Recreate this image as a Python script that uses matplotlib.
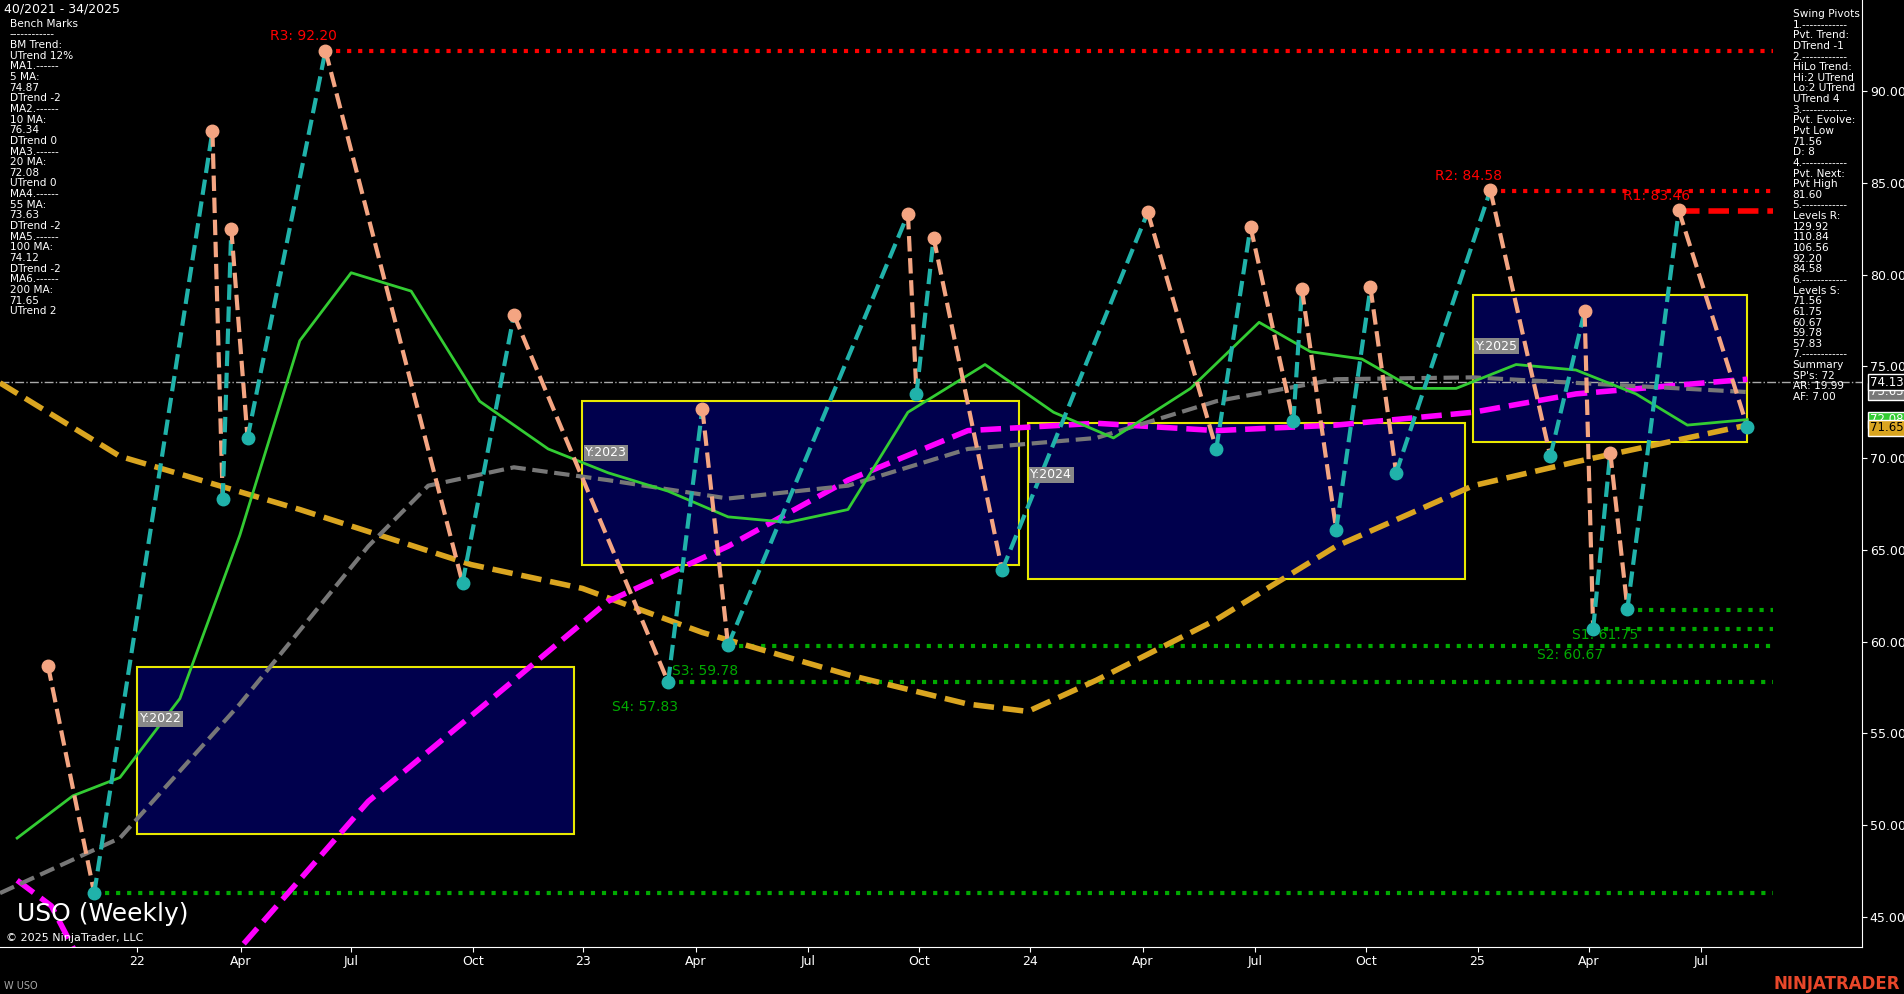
import numpy as np
import matplotlib.pyplot as plt
from matplotlib.patches import Rectangle

# week index from first week of 2022
piv_w = [-10.4, -5, 8.8, 10, 11, 12.9, 22, 38, 44, 62, 66, 69, 90, 91, 93, 101, 118, 126,
         130, 135, 136, 140, 144, 147, 158, 165, 169, 170, 172, 174, 180, 188]
piv_p = [58.7, 46.3, 87.8, 67.8, 82.5, 71.1, 92.2, 63.2, 77.8, 57.8, 72.7, 59.8, 83.3, 73.5,
         82.0, 63.9, 83.4, 70.5, 82.6, 72.0, 79.2, 66.1, 79.3, 69.2, 84.6, 70.1, 78.0, 60.7,
         70.3, 61.8, 83.5, 71.7]

ma200_w = [-16, -2, 19, 39, 52, 66, 83, 97, 104, 112, 126, 140, 156, 168, 188]
ma200_p = [74.1, 70.1, 67.2, 64.2, 62.9, 60.5, 58.2, 56.6, 56.2, 57.9, 61.2, 65.2, 68.5, 69.8, 71.8]
ma100_w = [-14, -10, -6, 6, 12, 27, 44, 55, 69, 83, 97, 112, 126, 140, 156, 168, 188]
ma100_p = [47.0, 45.6, 42.0, 38.0, 43.3, 51.3, 57.9, 62.2, 65.2, 68.8, 71.5, 71.9, 71.5, 71.8, 72.5, 73.5, 74.3]
ma55_w = [-16, -2, 12, 27, 34, 44, 55, 69, 83, 97, 112, 126, 140, 156, 168, 188]
ma55_p = [46.3, 49.3, 56.6, 65.2, 68.5, 69.5, 68.8, 67.8, 68.5, 70.5, 71.1, 73.1, 74.3, 74.4, 74.1, 73.6]
ma20_w = [-14, -7.5, -2, 5, 12, 19, 25, 32, 40, 48, 55, 62, 69, 76, 83, 90, 99, 107, 114, 123,
          131, 137, 143, 149, 154, 161, 168, 175, 181, 188]
ma20_p = [49.3, 51.6, 52.6, 56.9, 65.8, 76.4, 80.1, 79.1, 73.1, 70.5, 69.2, 68.2, 66.8, 66.5, 67.2,
          72.5, 75.1, 72.5, 71.1, 73.8, 77.4, 75.8, 75.4, 73.8, 73.8, 75.1, 74.8, 73.5, 71.8, 72.1]

boxes = [("Y:2022", 0, 51, 49.5, 58.6), ("Y:2023", 52, 103, 64.2, 73.1),
         ("Y:2024", 104, 155, 63.4, 71.9), ("Y:2025", 156, 188, 70.9, 78.9)]
res = [("R3: 92.20", 92.20, 22, 2), ("R2: 84.58", 84.58, 158, 2), ("R1: 83.46", 83.46, 180, 3)]
sup = [("S4: 57.83", 57.83, 62), ("S3: 59.78", 59.78, 69), ("S2: 60.67", 60.67, 170),
       ("S1: 61.75", 61.75, 174), ("", 46.3, -5)]

tick_w = [0, 12.1, 25, 39.2, 52.1, 65.2, 78.3, 91.3, 104.2, 117.4, 130.5, 143.5, 156.5, 169.5, 182.6]
tick_l = ["22", "Apr", "Jul", "Oct", "23", "Apr", "Jul", "Oct", "24", "Apr", "Jul", "Oct", "25", "Apr", "Jul"]

fig = plt.figure(figsize=(19.04, 9.94), dpi=100, facecolor="black")
ax = fig.add_axes([0, 0.047, 0.978, 0.953], facecolor="black")
ax.set_xlim(-16, 201.4)
ax.set_ylim(43.35, 94.96)

for name, x0, x1, y0, y1 in boxes:
    ax.add_patch(Rectangle((x0, y0), x1 - x0, y1 - y0, facecolor="#00004d", edgecolor="#e8e800", lw=1.5, zorder=1))
    ax.text(x0 + 0.3, y1 - 3, name, color="white", fontsize=9, zorder=6,
            bbox=dict(facecolor="#888888", edgecolor="none", pad=1))

ax.axhline(74.13, color="#aaaaaa", ls="-.", lw=1, zorder=2)

for lab, p, w0, lw in res:
    ax.plot([w0, 191], [p, p], color="red", ls=":" if lw == 2 else "--", lw=lw + 1, zorder=3)
    ax.text(w0 - 6.5, p + 0.6, lab, color="red", fontsize=10)
for lab, p, w0 in sup:
    ax.plot([w0, 191], [p, p], color="#00aa00", ls=":", lw=3, zorder=3)
    if lab:
        ax.text(w0 - 6.5, p - 1.6, lab, color="#00aa00", fontsize=10)

ax.plot(ma200_w, ma200_p, color="#daa520", ls="--", lw=4, zorder=4)
ax.plot(ma100_w, ma100_p, color="#ff00ff", ls="--", lw=4, zorder=4)
ax.plot(ma55_w, ma55_p, color="#777777", ls="--", lw=3, zorder=4)
ax.plot(ma20_w, ma20_p, color="#33cc33", lw=2, zorder=4)

for i in range(len(piv_w) - 1):
    up = piv_p[i + 1] > piv_p[i]
    ax.plot(piv_w[i:i + 2], piv_p[i:i + 2], color="#20b2aa" if up else "#f4a582", ls="--", lw=3, zorder=5)
for w, p, nxt in zip(piv_w, piv_p, piv_p[1:] + [80]):
    hi = p > nxt
    ax.plot(w, p, "o", color="#f4a582" if hi else "#20b2aa", ms=9, zorder=6)

ax.set_xticks(tick_w)
ax.set_xticklabels(tick_l, color="white", fontsize=9)
ax.yaxis.tick_right()
ax.set_yticks(np.arange(45, 95, 5))
ax.set_yticklabels([f"{v:.2f}" for v in np.arange(45, 95, 5)], color="white", fontsize=9)
ax.tick_params(colors="white", pad=2)
for s in ["top", "left"]:
    ax.spines[s].set_visible(False)
ax.spines["bottom"].set_color("white")
ax.spines["right"].set_color("white")

for lab, p, fc, tc in [("73.63", 73.63, "#777777", "white"), ("74.13", 74.13, "black", "white"),
                       ("72.08", 72.08, "#33cc33", "white"), ("71.65", 71.65, "#daa520", "black")]:
    ax.text(1.004, (p - 43.35) / (94.96 - 43.35), lab, transform=ax.transAxes, color=tc, fontsize=8.5,
            va="center", bbox=dict(facecolor=fc, edgecolor="white", pad=1.2), clip_on=False)

left_txt = ("Bench Marks\n------------\nBM Trend:\nUTrend 12%\nMA1.------\n5 MA:\n74.87\nDTrend -2\nMA2.------\n"
            "10 MA:\n76.34\nDTrend 0\nMA3.------\n20 MA:\n72.08\nUTrend 0\nMA4.------\n55 MA:\n73.63\n"
            "DTrend -2\nMA5.------\n100 MA:\n74.12\nDTrend -2\nMA6.------\n200 MA:\n71.65\nUTrend 2")
fig.text(0.002, 0.997, "40/2021 - 34/2025", color="white", fontsize=9, va="top")
fig.text(0.005, 0.981, left_txt, color="white", fontsize=7.6, va="top", linespacing=1.08)
right_txt = ("Swing Pivots\n1.------------\nPvt. Trend:\nDTrend -1\n2.------------\nHiLo Trend:\nHi:2 UTrend\n"
             "Lo:2 UTrend\nUTrend 4\n3.------------\nPvt. Evolve:\nPvt Low\n71.56\nD: 8\n4.------------\n"
             "Pvt. Next:\nPvt High\n81.60\n5.------------\nLevels R:\n129.92\n110.84\n106.56\n92.20\n84.58\n"
             "6.------------\nLevels S:\n71.56\n61.75\n60.67\n59.78\n57.83\n7.------------\nSummary\n"
             "SP's: 72\nAR: 19.99\nAF: 7.00")
fig.text(0.9415, 0.991, right_txt, color="white", fontsize=7.6, va="top", linespacing=1.08)

fig.text(0.009, 0.073, "USO (Weekly)", color="white", fontsize=18)
fig.text(0.003, 0.053, "© 2025 NinjaTrader, LLC", color="white", fontsize=8)
fig.text(0.002, 0.005, "W USO", color="#aaaaaa", fontsize=7)
fig.text(0.998, 0.005, "NINJATRADER", color="#e8472a", fontsize=12, fontweight="bold", ha="right")

fig.savefig("out.png", dpi=100, facecolor="black")
